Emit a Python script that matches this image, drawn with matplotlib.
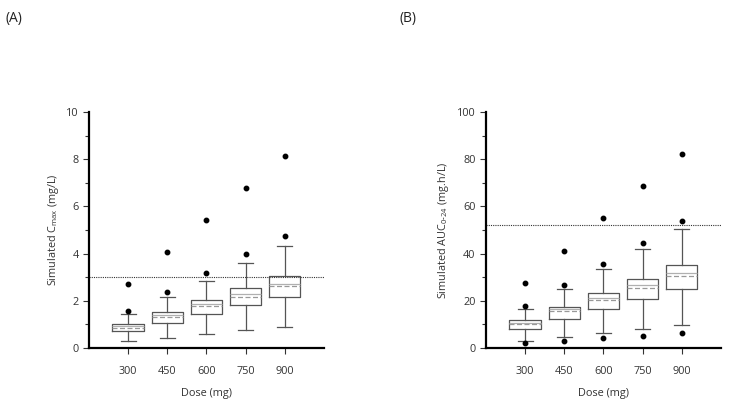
import numpy as np
import matplotlib.pyplot as plt
from matplotlib.ticker import MultipleLocator

plt.rcParams['font.family'] = ['Open Sans', 'DejaVu Sans']
plt.rcParams['mathtext.default'] = 'regular'

doses = ['300', '450', '600', '750', '900']

# Cmax (mg/L)
cmax_wlo = [0.30, 0.44, 0.60, 0.75, 0.89]
cmax_q1 = [0.72, 1.08, 1.46, 1.83, 2.17]
cmax_med = [0.93, 1.39, 1.85, 2.28, 2.73]
cmax_mean = [0.85, 1.30, 1.77, 2.18, 2.63]
cmax_q3 = [1.02, 1.52, 2.04, 2.55, 3.07]
cmax_whi = [1.43, 2.15, 2.86, 3.60, 4.31]
cmax_out = [[2.72, 1.59], [4.05, 2.38], [5.42, 3.17], [6.77, 3.97], [8.13, 4.76]]
cmax_ref = 3.0

# AUC0-24 (mg.h/L)
auc_wlo = [3.1, 4.7, 6.5, 8.1, 9.8]
auc_q1 = [8.2, 12.5, 16.7, 21.0, 24.9]
auc_med = [10.8, 16.4, 21.4, 26.6, 32.0]
auc_mean = [10.2, 15.6, 20.5, 25.6, 30.7]
auc_q3 = [11.8, 17.6, 23.5, 29.3, 35.4]
auc_whi = [16.7, 25.2, 33.6, 42.1, 50.4]
auc_out = [[27.5, 17.8, 2.0], [41.1, 26.9, 3.0], [55.0, 35.7, 4.1],
           [68.6, 44.6, 5.1], [82.4, 53.7, 6.2]]
auc_ref = 52.0


def make_stats(wlo, q1, med, mean, q3, whi, out):
    stats = []
    for i in range(len(doses)):
        stats.append(dict(whislo=wlo[i], q1=q1[i], med=med[i], mean=mean[i],
                          q3=q3[i], whishi=whi[i], fliers=out[i]))
    return stats


def draw(ax, stats, ref, ymax, ylabel):
    pos = np.arange(1, len(doses) + 1)
    ax.bxp(stats, positions=pos, widths=0.8, capwidths=0.38,
           showmeans=True, meanline=True,
           boxprops=dict(color='#555555', linewidth=0.9),
           whiskerprops=dict(color='#555555', linewidth=0.9),
           capprops=dict(color='#555555', linewidth=0.9),
           medianprops=dict(color='#b0b0b0', linewidth=0.9),
           meanprops=dict(color='#999999', linewidth=0.9, linestyle=(0, (4, 2))),
           flierprops=dict(marker='o', markerfacecolor='black',
                           markeredgecolor='black', markersize=3.2))
    ax.axhline(ref, color='#333333', linewidth=0.8, linestyle=(0, (1, 1)))
    ax.set_xlim(0, 6)
    ax.set_ylim(0, ymax)
    ax.set_xticks(pos)
    ax.set_xticklabels(doses)
    ax.yaxis.set_major_locator(MultipleLocator(ymax / 5))
    ax.yaxis.set_minor_locator(MultipleLocator(ymax / 10))
    for s in ['top', 'right']:
        ax.spines[s].set_visible(False)
    for s in ['left', 'bottom']:
        ax.spines[s].set_linewidth(1.6)
    ax.tick_params(axis='both', which='major', labelsize=7.8, colors='#333333',
                   length=4, width=0.8)
    ax.tick_params(axis='y', which='minor', length=3, width=0.8, colors='#333333')
    ax.tick_params(axis='x', pad=9)
    ax.set_xlabel('Dose (mg)', fontsize=7.8, color='#333333', labelpad=8)
    ax.set_ylabel(ylabel, fontsize=7.8, color='#333333')


fig = plt.figure(figsize=(7.39, 4.09), dpi=100)
ax1 = fig.add_axes([0.1204, 0.149, 0.318, 0.577])
ax2 = fig.add_axes([0.6576, 0.149, 0.318, 0.577])

draw(ax1, make_stats(cmax_wlo, cmax_q1, cmax_med, cmax_mean, cmax_q3, cmax_whi, cmax_out),
     cmax_ref, 10, 'Simulated C$_{max}$ (mg/L)')
draw(ax2, make_stats(auc_wlo, auc_q1, auc_med, auc_mean, auc_q3, auc_whi, auc_out),
     auc_ref, 100, 'Simulated AUC$_{0\\text{-}24}$ (mg.h/L)')

fig.text(0.008, 0.955, '(A)', fontsize=10, va='center', color='#222222')
fig.text(0.541, 0.955, '(B)', fontsize=10, va='center', color='#222222')

fig.savefig('out.png', dpi=100)
